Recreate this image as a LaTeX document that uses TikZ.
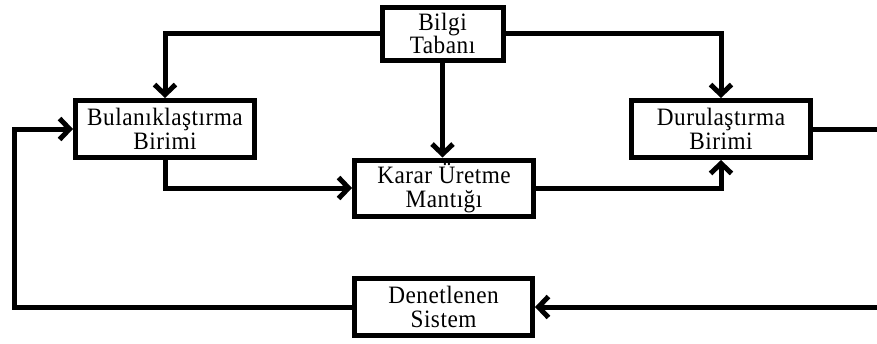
\documentclass[tikz,border=0pt]{standalone}
\usepackage{fontspec}
\setmainfont{Liberation Serif}[LetterSpace=2,FakeStretch=0.93]
\usetikzlibrary{arrows.meta}
\begin{document}
\begin{tikzpicture}[x=1pt,y=-1pt,
  box/.style={draw, line width=5pt, align=center, inner sep=0pt,
    font=\fontsize{25}{23.5}\selectfont},
  conn/.style={line width=5pt},
  arr/.style={conn, -{Straight Barb[length=10pt,width=21pt]}}]
\useasboundingbox (0,0) rectangle (877,343);
\node[box, minimum width=121pt, minimum height=53pt] (bilgi) at (442.5,33.5) {Bilgi\\Tabanı};
\node[box, minimum width=179pt, minimum height=57pt] (bul) at (165,129) {Bulanıklaştırma\\Birimi};
\node[box, minimum width=179pt, minimum height=56pt] (karar) at (444,188) {Karar Üretme\\Mantığı};
\node[box, minimum width=179pt, minimum height=57pt] (dur) at (721,129) {Durulaştırma\\Birimi};
\node[box, minimum width=178pt, minimum height=57pt] (den) at (443.5,307) {Denetlenen\\Sistem};
\coordinate (rtop) at (877,129);
\coordinate (rbot) at (877,307);
\coordinate (lbot) at (14,307);
\draw[arr] (bilgi.west) -| (bul.north);
\draw[arr] (bilgi.east) -| (dur.north);
\draw[arr] (bilgi.south) -- (bilgi.south |- karar.north);
\draw[arr] (bul.south) |- (karar.west);
\draw[arr] (karar.east) -| (dur.south);
\draw[conn] (dur.east) -- (rtop);
\draw[arr] (rbot) -- (den.east);
\draw[arr] (den.west) -- (lbot) |- (bul.west);
\end{tikzpicture}
\end{document}
